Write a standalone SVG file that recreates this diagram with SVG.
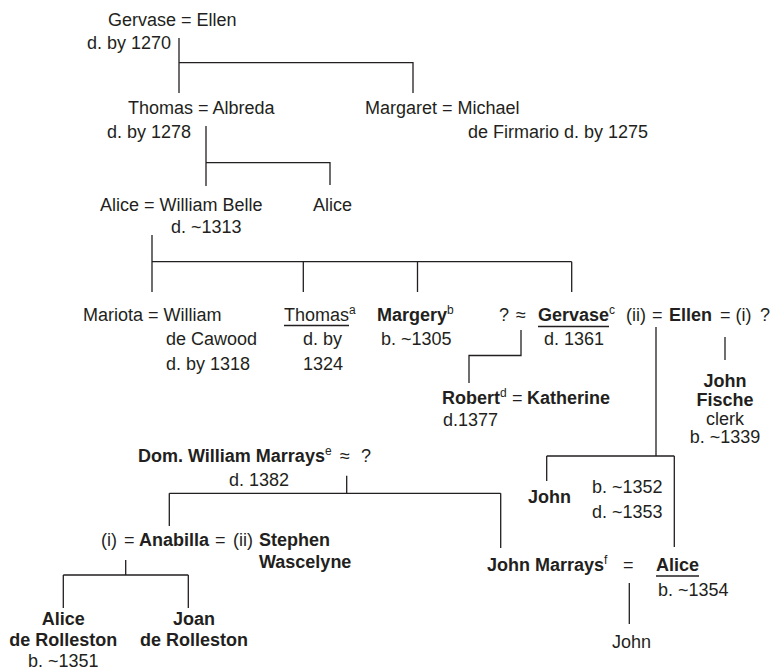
<svg xmlns="http://www.w3.org/2000/svg" width="779" height="672" viewBox="0 0 779 672">
<style>
text{font-family:"Liberation Sans",Arial,Helvetica,sans-serif;font-size:18px;fill:#231f20}
.b{font-weight:bold}
.m{text-anchor:middle}
.sup{font-size:12px;font-weight:normal}
#connectors path,.ul{fill:none;stroke:#231f20;stroke-width:1.3}
</style>
<rect width="779" height="672" fill="#ffffff"/>
<g id="connectors">
<path d="M179,38V93M179,62.7H413V93"/>
<path d="M206,126V186M206,162.7H330V185"/>
<path d="M152,235V292M152,261.7H571.7M303.3,261.7V292M417.5,261.7V292M571.7,261.7V292"/>
<path d="M521,330V355.5H469V383"/>
<path d="M656,327V456M546.7,456H674.3M546.7,456V481M674.3,456V547"/>
<path d="M725,337V360"/>
<path d="M346.7,475.7V493.3M169.3,493.3H500.7M169.3,493.3V526M500.7,493.3V548"/>
<path d="M125.7,560V575M63.3,575H188.3M63.3,575V608M188.3,575V608"/>
<path d="M629.3,583V624"/>
</g>
<g id="gervase-ellen">
<text x="108" y="26">Gervase = Ellen</text>
<text x="87" y="49">d. by 1270</text>
</g>
<g id="thomas-albreda">
<text x="128" y="114">Thomas = Albreda</text>
<text x="107" y="138">d. by 1278</text>
</g>
<g id="margaret-michael">
<text x="365" y="114">Margaret = Michael</text>
<text x="468" y="138">de Firmario d. by 1275</text>
</g>
<g id="alice-william">
<text x="100" y="211">Alice = William Belle</text>
<text x="171" y="233">d. ~1313</text>
</g>
<g id="alice2">
<text x="313" y="211">Alice</text>
</g>
<g id="mariota-william">
<text x="83" y="321">Mariota = William</text>
<text x="166" y="345">de Cawood</text>
<text x="166" y="370">d. by 1318</text>
</g>
<g id="thomas">
<text x="284" y="321">Thomas<tspan class="sup" dy="-7">a</tspan></text>
<path class="ul" d="M284,325.5H349"/>
<text x="303" y="345">d. by</text>
<text x="303" y="370">1324</text>
</g>
<g id="margery">
<text x="377" y="321"><tspan class="b">Margery</tspan><tspan class="sup" dy="-7">b</tspan></text>
<text x="381" y="345">b. ~1305</text>
</g>
<g id="gervase">
<text x="499" y="321">?</text>
<text x="516" y="321">≈</text>
<text x="538" y="321"><tspan class="b">Gervase</tspan><tspan class="sup" dy="-7">c</tspan></text>
<path class="ul" d="M538,326.5H609"/>
<text x="626" y="321">(ii)</text>
<text x="544" y="345">d. 1361</text>
</g>
<g id="ellen">
<text x="652" y="321">=</text>
<text class="b" x="669" y="321">Ellen</text>
<text x="720" y="321">= (i)</text>
<text x="760" y="321">?</text>
</g>
<g id="john-fische">
<text class="b m" x="725" y="387">John</text>
<text class="b m" x="725" y="406">Fische</text>
<text class="m" x="725" y="424.5">clerk</text>
<text class="m" x="725" y="443">b. ~1339</text>
</g>
<g id="robert-katherine">
<text x="442" y="404"><tspan class="b">Robert</tspan><tspan class="sup" dy="-7">d</tspan></text>
<text x="512" y="404">=</text>
<text class="b" x="527" y="404">Katherine</text>
<text x="443" y="426">d.1377</text>
</g>
<g id="william-marrays">
<text x="138" y="462"><tspan class="b">Dom. William Marrays</tspan><tspan class="sup" dy="-7">e</tspan></text>
<text x="340" y="462">≈</text>
<text x="361" y="462">?</text>
<text x="229" y="486">d. 1382</text>
</g>
<g id="anabilla">
<text x="101" y="546">(i)</text>
<text x="124" y="546">=</text>
<text class="b" x="139" y="546">Anabilla</text>
<text x="215" y="546">=</text>
<text x="233" y="546">(ii)</text>
</g>
<g id="stephen">
<text class="b" x="259" y="546">Stephen</text>
<text class="b" x="259" y="568">Wascelyne</text>
</g>
<g id="john-b1352">
<text class="b" x="528" y="503">John</text>
<text x="592" y="493">b. ~1352</text>
<text x="592" y="518">d. ~1353</text>
</g>
<g id="john-marrays">
<text x="487" y="571"><tspan class="b">John Marrays</tspan><tspan class="sup" dy="-7">f</tspan></text>
<text x="623" y="571">=</text>
</g>
<g id="alice-b1354">
<text class="b" x="656" y="571">Alice</text>
<path class="ul" d="M656,576H699"/>
<text x="658" y="596">b. ~1354</text>
</g>
<g id="alice-rolleston">
<text class="b m" x="63.3" y="625">Alice</text>
<text class="b m" x="63.3" y="646">de Rolleston</text>
<text class="m" x="63.3" y="667">b. ~1351</text>
</g>
<g id="joan-rolleston">
<text class="b m" x="194" y="625">Joan</text>
<text class="b m" x="194" y="646">de Rolleston</text>
</g>
<g id="john-son">
<text x="612" y="648">John</text>
</g>
</svg>
